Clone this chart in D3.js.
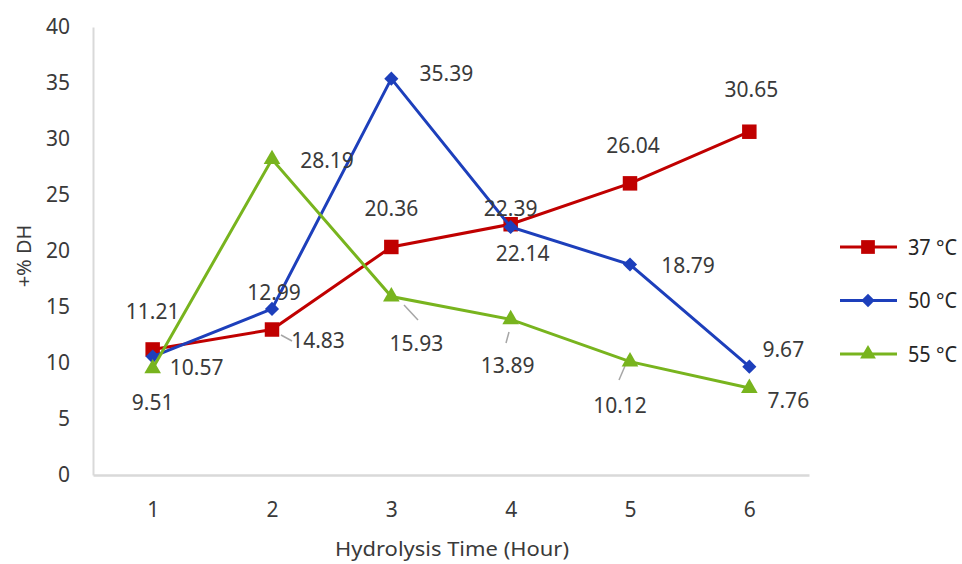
<!DOCTYPE html>
<html>
<head>
<meta charset="utf-8">
<script src="https://cdn.jsdelivr.net/npm/d3@7"></script>
<style>
  body { margin: 0; background: #fff; }
  svg text { font-family: "Noto Sans", "Open Sans", sans-serif; fill: #3a3a3a; }
</style>
</head>
<body>
<div id="chart"></div>
<script>
// Data
const hours = [1, 2, 3, 4, 5, 6];
const dh37 = [11.21, 12.99, 20.36, 22.39, 26.04, 30.65];
const dh50 = [10.57, 14.83, 35.39, 22.14, 18.79, 9.67];
const dh55 = [9.51, 28.19, 15.93, 13.89, 10.12, 7.76];
const seriesNames = ["37 \u00B0C", "50 \u00B0C", "55 \u00B0C"];
const yTicks = [0, 5, 10, 15, 20, 25, 30, 35, 40];

// label offsets (dx, dy) from each point, as Excel placed them
const offs37 = [[0, -38], [2, -37], [0, -39], [0, -16], [3, -38], [2, -42]];
const offs50 = [[44, 11], [46, 32], [55, -5], [12, 26], [58, 1], [34, -17]];
const offs55 = [[0, 34], [55, 1], [25, 47], [-3, 46], [-10, 44], [39, 12]];

const width = 962, height = 564;

const svg = d3.select("#chart").append("svg")
  .attr("width", width)
  .attr("height", height);

const x = d3.scalePoint().domain(hours).range([93, 809]).padding(0.5);
const y = d3.scaleLinear().domain([0, 40]).range([475, 27]);

// Axes
const yAxis = svg.append("g")
  .attr("transform", "translate(93,0)")
  .call(d3.axisLeft(y).tickValues(yTicks).tickSize(0).tickPadding(23));
yAxis.select(".domain").attr("stroke", "#d9d9d9").attr("stroke-width", 2);
yAxis.selectAll("text").attr("font-size", 21).style("fill", "#3a3a3a");

const xAxis = svg.append("g")
  .attr("transform", "translate(0,475)")
  .call(d3.axisBottom(x).tickSize(0).tickPadding(27).tickSizeOuter(0));
xAxis.select(".domain").attr("stroke", "#d9d9d9").attr("stroke-width", 2.5);
xAxis.selectAll("text").attr("font-size", 21).style("fill", "#3a3a3a");

// Axis titles
svg.append("text")
  .attr("x", 452).attr("y", 556)
  .attr("text-anchor", "middle")
  .attr("font-size", 20)
  .attr("textLength", 234)
  .attr("lengthAdjust", "spacingAndGlyphs")
  .text("Hydrolysis Time (Hour)");

svg.append("text")
  .attr("transform", "translate(31,256) rotate(-90)")
  .attr("text-anchor", "middle")
  .attr("font-size", 20)
  .text("+% DH");

const series = [
  { name: seriesNames[0], values: dh37, offs: offs37, color: "#c00000", symbol: d3.symbolSquare, size: 210, rot: 0 },
  { name: seriesNames[1], values: dh50, offs: offs50, color: "#1d3fbb", symbol: d3.symbolSquare, size: 100, rot: 45 },
  { name: seriesNames[2], values: dh55, offs: offs55, color: "#78b41e", symbol: d3.symbolTriangle, size: 120, rot: 0 }
];

const line = d3.line()
  .x((d, i) => x(hours[i]))
  .y(d => y(d));

// leader lines for the labels Excel pulled away from their points
const leaders = [
  [[281, 335], [292, 341]],
  [[404, 305], [418, 320]],
  [[506, 343], [509, 332]],
  [[619, 380], [625, 366]]
];
svg.append("g").selectAll("line")
  .data(leaders)
  .join("line")
  .attr("x1", d => d[0][0]).attr("y1", d => d[0][1])
  .attr("x2", d => d[1][0]).attr("y2", d => d[1][1])
  .attr("stroke", "#a6a6a6")
  .attr("stroke-width", 1.5);

series.forEach(s => {
  const g = svg.append("g");
  g.append("path")
    .datum(s.values)
    .attr("d", line)
    .attr("fill", "none")
    .attr("stroke", s.color)
    .attr("stroke-width", 3);

  g.selectAll("path.mark")
    .data(s.values)
    .join("path")
    .attr("class", "mark")
    .attr("d", d3.symbol().type(s.symbol).size(s.size))
    .attr("transform", (d, i) => `translate(${x(hours[i])},${y(d)}) rotate(${s.rot})`)
    .attr("fill", s.color);
});

// Data labels (drawn after marks)
series.forEach(s => {
  svg.append("g").selectAll("text")
    .data(s.values)
    .join("text")
    .attr("x", (d, i) => x(hours[i]) + s.offs[i][0])
    .attr("y", (d, i) => y(d) + s.offs[i][1])
    .attr("dy", "0.36em")
    .attr("text-anchor", "middle")
    .attr("font-size", 21)
    .text(d => d.toFixed(2));
});

// Legend
const legend = svg.append("g")
  .selectAll("g")
  .data(series)
  .join("g")
  .attr("transform", (d, i) => `translate(840,${247 + i * 53.5})`);

legend.append("line")
  .attr("x1", 0).attr("x2", 57)
  .attr("stroke", d => d.color)
  .attr("stroke-width", 3);

legend.append("path")
  .attr("d", d => d3.symbol().type(d.symbol).size(d.size * 0.9)())
  .attr("transform", d => `translate(28,0) rotate(${d.rot})`)
  .attr("fill", d => d.color);

legend.append("text")
  .attr("x", 68)
  .attr("dy", "0.36em")
  .attr("font-size", 21)
  .attr("textLength", 49)
  .attr("lengthAdjust", "spacingAndGlyphs")
  .style("fill", "#262626")
  .text(d => d.name);
</script>
</body>
</html>
